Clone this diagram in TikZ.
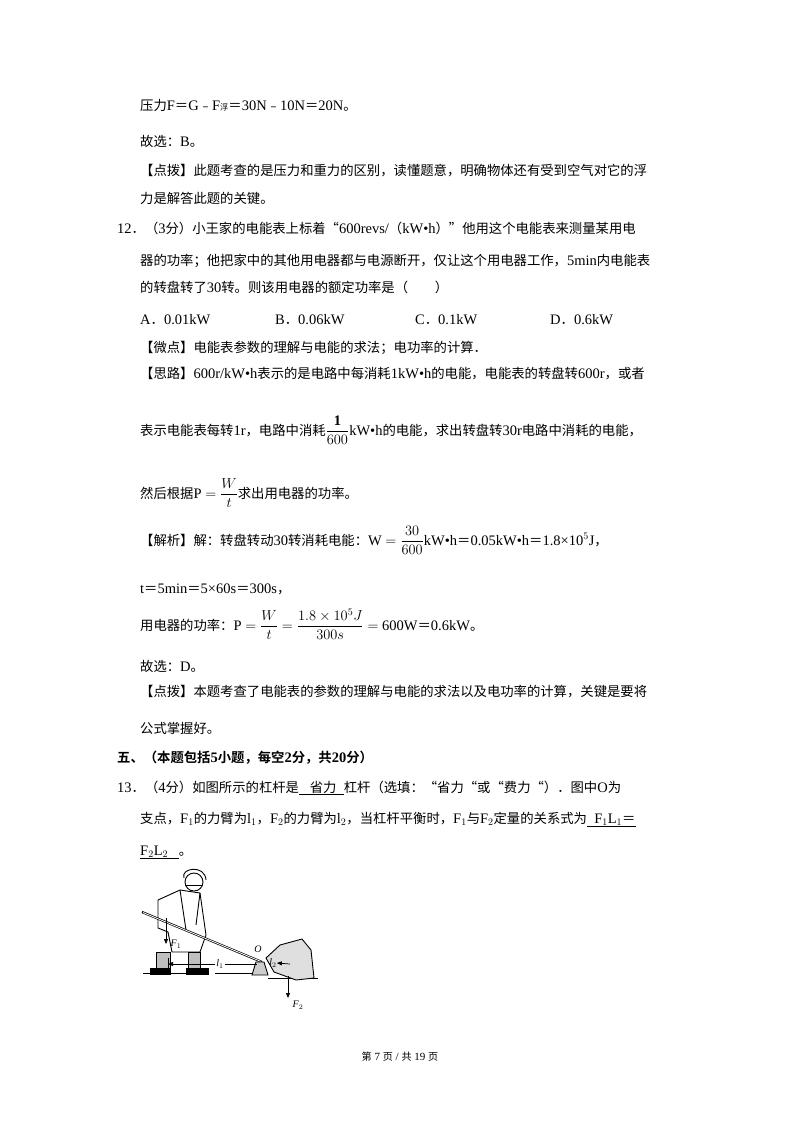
\documentclass[tikz,border=0pt]{standalone}
\usepackage{fontspec}
\setmainfont{Liberation Serif}
\newfontfamily\cjkreg{Noto Sans CJK SC}[Scale=0.92]
\newfontfamily\cjkbold{Noto Sans CJK SC Bold}[Scale=0.92]
\newfontfamily\latreg{Liberation Serif}
\newfontfamily\latbold{Liberation Serif Bold}
\def\cjk{\cjkreg}\def\lat{\latreg}
\newXeTeXintercharclass\cjkclass
\makeatletter
\count@="3000 \loop\ifnum\count@<"3040 \XeTeXcharclass\count@=\cjkclass\advance\count@ 1 \repeat
\count@="4E00 \loop\ifnum\count@<"A000 \XeTeXcharclass\count@=\cjkclass\advance\count@ 1 \repeat
\count@="FE30 \loop\ifnum\count@<"FFF0 \XeTeXcharclass\count@=\cjkclass\advance\count@ 1 \repeat
\makeatother
\XeTeXcharclass"201C=\cjkclass \XeTeXcharclass"201D=\cjkclass
\XeTeXinterchartoks 0 \cjkclass = {\cjk}
\XeTeXinterchartoks 4095 \cjkclass = {\cjk}
\XeTeXinterchartoks \cjkclass 0 = {\lat}
\XeTeXinterchartoks \cjkclass 4095 = {\lat}
\XeTeXinterchartokenstate=1
\usetikzlibrary{arrows.meta}
\newcommand\dfr[2]{{\displaystyle\frac{#1}{#2}}}
\tikzset{ln/.style={anchor=base west,inner sep=0pt,font=\fontsize{14.5}{16}\selectfont},
 fig/.style={line width=0.9pt,black},
 arr/.style={-{Triangle[length=5pt,width=4pt]},line width=0.7pt},
 lab/.style={font=\itshape\fontsize{10}{11}\selectfont,inner sep=0pt}}
\begin{document}
\begin{tikzpicture}[x=1pt,y=-1pt]
\useasboundingbox (0,0) rectangle (800,1132);
\node[ln] (l1) at (140,110) {压力F＝G﹣F{\fontsize{9}{9}\selectfont 浮}＝30N﹣10N＝20N。};
\node[ln] (l2) at (140,146) {故选：B。};
\node[ln] (l3) at (140,175) {【点拨】此题考查的是压力和重力的区别，读懂题意，明确物体还有受到空气对它的浮};
\node[ln] (l4) at (140,203) {力是解答此题的关键。};
\node[ln] (l5) at (117,233) {12．（3分）小王家的电能表上标着“600revs/（kW•h）”他用这个电能表来测量某用电};
\node[ln] (l6) at (140,265) {器的功率；他把家中的其他用电器都与电源断开，仅让这个用电器工作，5min内电能表};
\node[ln] (l7) at (140,292) {的转盘转了30转。则该用电器的额定功率是（　　）};
\node[ln] (a) at (140,324) {A．0.01kW};
\node[ln] (b) at (275,324) {B．0.06kW};
\node[ln] (c) at (415,324) {C．0.1kW};
\node[ln] (d) at (550,324) {D．0.6kW};
\node[ln] (l9) at (140,352) {【微点】电能表参数的理解与电能的求法；电功率的计算．};
\node[ln] (l10) at (140,378) {【思路】600r/kW•h表示的是电路中每消耗1kW•h的电能，电能表的转盘转600r，或者};
\node[ln] (l11) at (140,435) {表示电能表每转1r，电路中消耗$\dfr{\mathbf{1}}{600}$kW•h的电能，求出转盘转30r电路中消耗的电能，};
\node[ln] (l12) at (140,498) {然后根据P $=\dfr{W}{t}$求出用电器的功率。};
\node[ln] (l13) at (140,545) {【解析】解：转盘转动30转消耗电能：W $=\dfr{30}{600}$kW•h＝0.05kW•h＝1.8×10$^5$J，};
\node[ln] (l14) at (140,593) {t＝5min＝5×60s＝300s，};
\node[ln] (l15) at (140,630) {用电器的功率：P $=\dfr{W}{t}=\dfr{1.8\times10^5J}{300s}=$ 600W＝0.6kW。};
\node[ln] (l16) at (140,671) {故选：D。};
\node[ln] (l17) at (140,696) {【点拨】本题考查了电能表的参数的理解与电能的求法以及电功率的计算，关键是要将};
\node[ln] (l18) at (140,733) {公式掌握好。};
\node[ln] (l19) at (117,762) {\def\cjk{\cjkbold}\def\lat{\latbold}\cjkbold 五、（本题包括5小题，每空2分，共20分）};
\node[ln] (l20) at (117,792) {13．（4分）如图所示的杠杆是\underline{\ \ \ 省力\ \ }杠杆（选填：“省力“或“费力“）．图中O为};
\node[ln] (l21) at (140,823) {支点，F$_1$的力臂为l$_1$，F$_2$的力臂为l$_2$，当杠杆平衡时，F$_1$与F$_2$定量的关系式为\underline{\ \ F$_1$L$_1$＝}};
\node[ln] (l22) at (140,855) {\underline{F$_2$L$_2$\ \ \ }。};
% figure
\draw[fig] (143,973) -- (206,973) (215,973) -- (262,973) (268,978) -- (318,978);
% man
\draw[fig,fill=white] (194,882) circle (9);
\draw[fig] (184,878) .. controls (180,868) and (205,864) .. (206,880);
\draw[fig] (186,885) -- (202,885);
\draw[fig,fill=white] (158,900) -- (180,890) -- (200,893) -- (206,935) -- (200,952) -- (172,952) -- (168,932) -- (158,928) -- cycle;
\draw[fig] (180,890) -- (186,930) (200,893) -- (196,925);
\draw[fig,fill=gray!50] (156,952) rectangle (170,968);
\draw[fig,fill=gray!50] (188,952) rectangle (200,968);
\draw[fig,fill=black] (150,968) rectangle (170,974) (186,968) rectangle (208,974);
% lever
\draw[fig,line width=2.2pt] (142,912) -- (262,962);
\draw[white,line width=0.8pt] (143,912.5) -- (261,961.5);
% fulcrum
\draw[fig,fill=gray!40] (252,975) -- (256,962) -- (264,962) -- (268,975) -- cycle;
% rock
\draw[fig,fill=gray!25] (266,958) -- (280,945) -- (302,939) -- (311,950) -- (314,978) -- (296,980) -- (274,972) -- cycle;
% forces
\coordinate (f1a) at (166,918); \coordinate (f1b) at (166,944);
\draw[arr] (f1a) -- (f1b);
\node[lab] (F1) at (176,944) {F$_1$};
\coordinate (o) at (257,964);
\node[lab] (O) at (258,949) {O};
\node[lab,fill=white,inner sep=1pt] (L1) at (220,964) {l$_1$};
\coordinate (l1end) at (168,964);
\draw[arr] (L1) -- (l1end);
\draw[line width=0.7pt] (L1) -- (o);
\draw[line width=0.5pt] (168,958) -- (168,972);
\node[lab] (L2) at (273,963) {l$_2$};
\coordinate (l2s) at (290,964);
\draw[arr] (l2s) -- (L2.east);
\coordinate (f2a) at (288,976); \coordinate (f2b) at (288,998);
\draw[arr] (f2a) -- (f2b);
\node[lab] (F2) at (298,1005) {F$_2$};
\node[inner sep=0pt,font=\fontsize{11}{12}\selectfont] (foot) at (400,1057) {第 7 页 / 共 19 页};
\end{tikzpicture}
\end{document}
